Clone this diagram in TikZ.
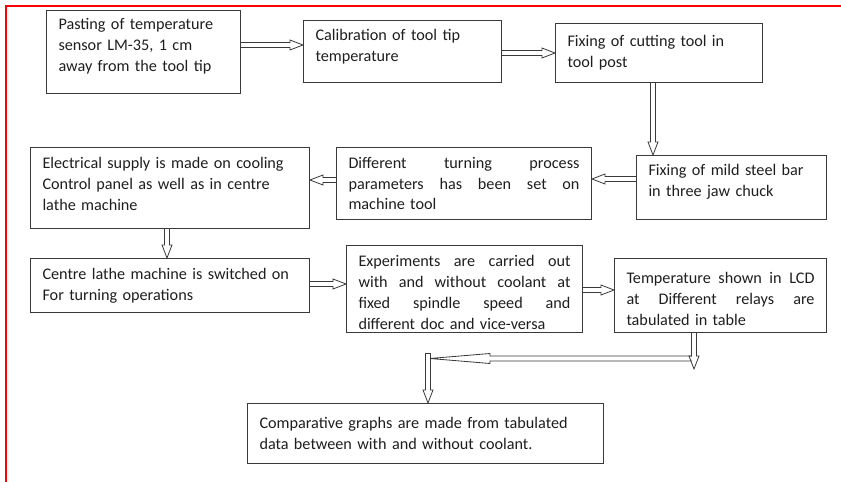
\documentclass[tikz,border=0pt]{standalone}
\usepackage{fontspec}
\setmainfont{Carlito}
\usetikzlibrary{calc}
\definecolor{boxline}{HTML}{3A3A3A}
\definecolor{txt}{HTML}{1E1E1E}
\tikzset{
  x=1pt, y=-1pt,
  box/.style={draw=boxline, line width=1pt, anchor=north west, inner xsep=12pt,
    inner ysep=0pt, align=left, text=txt, font=\fontsize{16.2}{20.8}\selectfont},
  arrowshape/.style={draw=boxline, line width=0.8pt, line join=miter},
  frame/.style={draw=red, line width=2pt},
}
% horizontal hollow arrow: [head length]{start}{end}
\newcommand\harrow[3][13]{%
  \path[arrowshape] let \p1=(#2), \p2=(#3), \n1={sign(\x2-\x1)} in
    (\x1,\y1-2.5pt) -- ({\x2-\n1*#1pt},\y1-2.5pt) -- ({\x2-\n1*#1pt},\y1-5pt)
    -- (\x2,\y1) -- ({\x2-\n1*#1pt},\y1+5pt) -- ({\x2-\n1*#1pt},\y1+2.5pt)
    -- (\x1,\y1+2.5pt);}
% vertical hollow arrow
\newcommand\varrow[3][13]{%
  \path[arrowshape] let \p1=(#2), \p2=(#3), \n1={sign(\y2-\y1)} in
    (\x1-2.5pt,\y1) -- (\x1-2.5pt,{\y2-\n1*#1pt}) -- (\x1-5pt,{\y2-\n1*#1pt})
    -- (\x1,\y2) -- (\x1+5pt,{\y2-\n1*#1pt}) -- (\x1+2.5pt,{\y2-\n1*#1pt})
    -- (\x1+2.5pt,\y1);}
\newcommand\jline[1]{{\spaceskip=0pt\xspaceskip=0pt\makebox[\hsize][s]{#1}}}
\newcommand\dep[1]{\rule[-#1pt]{0pt}{#1pt}}
\newcommand\hgt[1]{\rule{0pt}{#1pt}}
\begin{document}
\begin{tikzpicture}
\useasboundingbox (0,0) rectangle (841,482);
\draw[frame] (841,6) -- (6,6) -- (6,482);

\node[box, text width=170pt, minimum height=83pt] (b1) at (46,10)
  {Pasting of temperature\\sensor LM-35, 1 cm\\away from the tool tip\dep{14}};
\node[box, text width=174pt, minimum height=62pt] (b2) at (303,20)
  {Calibration of tool tip\\temperature\dep{12}};
\node[box, text width=183pt, minimum height=59pt] (b3) at (555,23)
  {Fixing of cutting tool in\\tool post};
\node[box, text width=166pt, minimum height=64pt] (b4) at (636,155)
  {Fixing of mild steel bar\\in three jaw chuck\dep{14}};
\node[box, text width=231pt, minimum height=72pt] (b5) at (336,147)
  {\jline{Different\hfill turning\hfill process}\\\jline{parameters has been set on}\\machine tool};
\node[box, text width=255pt, minimum height=81pt] (b6) at (30,147)
  {Electrical supply is made on cooling\\Control panel as well as in centre\\lathe machine\dep{8}};
\node[box, text width=255pt, minimum height=54pt] (b7) at (30,258)
  {Centre lathe machine is switched on\\For turning operations};
\node[box, text width=212pt, minimum height=87pt] (b8) at (346,245)
  {\jline{\hgt{18}Experiments are carried out}\\\jline{with and without coolant at}\\\jline{fixed spindle speed and}\\different doc and vice-versa};
\node[box, text width=188pt, minimum height=74pt] (b9) at (614,258)
  {\jline{\hgt{18}Temperature shown in LCD}\\\jline{at Different relays are}\\tabulated in table};
\node[box, text width=332pt, minimum height=60pt] (b10) at (247,403)
  {Comparative graphs are made from tabulated\\data between with and without coolant.};

\coordinate (t9) at (694,369);
\coordinate (hr) at (692,358.5);
\coordinate (hl) at (430,358.5);
\coordinate (vt) at (428,353);

\harrow{b1.east |- 0,45}{b2.west |- 0,45}
\harrow{b2.east |- 0,53}{b3.west |- 0,53}
\varrow{b3.south -| 653,0}{b4.north -| 653,0}
\harrow{b4.west |- 0,179}{b5.east |- 0,179}
\harrow{b5.west |- 0,180}{b6.east |- 0,180}
\varrow{b6.south -| 167,0}{b7.north -| 167,0}
\harrow{b7.east |- 0,284}{b8.west |- 0,284}
\harrow{b8.east |- 0,290}{b9.west |- 0,290}
\varrow{b9.south -| t9}{t9}
\harrow[60]{hr}{hl}
\varrow{vt}{b10.north -| vt}
\draw[arrowshape] ($(vt)+(-2.5,0)$) -- ($(vt)+(2.5,0)$);
\end{tikzpicture}
\end{document}
